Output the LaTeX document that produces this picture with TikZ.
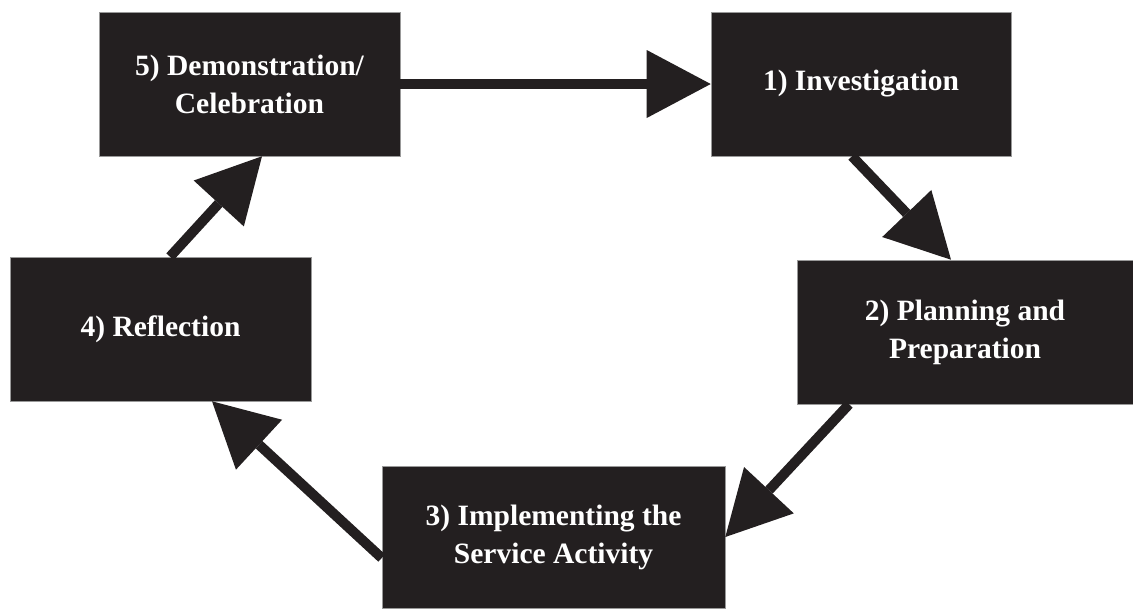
\documentclass[tikz,border=0pt]{standalone}
\usepackage{fontspec}
\setmainfont{Liberation Serif}
\usetikzlibrary{arrows.meta,calc}
\definecolor{stagefill}{RGB}{35,31,32}

\begin{document}
\begin{tikzpicture}[
  stage/.style={rectangle, fill=stagefill, draw=gray!80, line width=0.4pt,
    text=white, align=center, inner sep=0pt, minimum height=3.6cm,
    font=\fontsize{21}{27}\selectfont\bfseries},
  flow/.style={line width=0.25cm, stagefill,
    -{Triangle[length=1.6cm,width=1.7cm,line width=0pt]}}]
  \useasboundingbox (0,0) rectangle (28.325,-15.2);
  % The five stages, clockwise from the top right
  \node[stage, minimum width=7.5cm] (inv) at (21.525,-2.1) {1) Investigation};
  \node[stage, minimum width=8.4cm] (plan) at (24.125,-8.3) {2) Planning and\\Preparation};
  \node[stage, minimum width=8.575cm, minimum height=3.55cm] (impl) at (13.8375,-13.425)
    {3) Implementing the\\Service Activity};
  \node[stage, minimum width=7.525cm] (refl) at (4.0125,-8.225) {4) Reflection};
  \node[stage, minimum width=7.525cm] (demo) at (6.2375,-2.1) {5) Demonstration/\\Celebration};
  % Arrows from stage to stage
  \draw[flow] (demo.east) -- (inv.west);
  \draw[flow] ([xshift=-0.225cm]inv.south) -- ([xshift=-0.35cm]plan.north);
  \draw[flow] ([xshift=-2.9cm]plan.south) -- (impl.east);
  \draw[flow] ([yshift=-0.525cm]impl.west) -- ([xshift=1.2875cm]refl.south);
  \draw[flow] ([xshift=0.2375cm]refl.north) -- ([xshift=0.3125cm]demo.south);
\end{tikzpicture}
\end{document}
